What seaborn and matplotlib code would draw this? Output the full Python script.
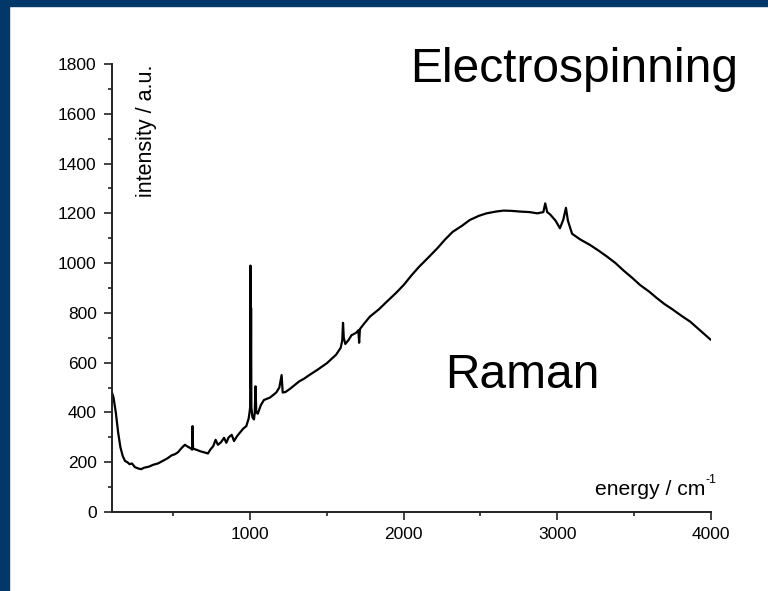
import pandas as pd
import seaborn as sns
import matplotlib.pyplot as plt
from matplotlib.patches import Rectangle
from matplotlib.ticker import MultipleLocator

# Raman spectrum, values
energy = [100, 110, 125, 140, 155, 170, 185, 200, 215, 230, 250, 270, 290, 310, 340,
          370, 400, 430, 460, 490, 510, 530, 555, 575, 595, 615, 622, 625, 628, 650,
          680, 710, 725, 740, 760, 775, 790, 810, 830, 845, 860, 880, 895, 915, 935,
          955, 975, 990, 995, 1000, 1002, 1004, 1006, 1008, 1015, 1025, 1030, 1035, 1040, 1050,
          1070, 1090, 1110, 1130, 1150, 1170, 1190, 1205, 1212, 1230, 1260, 1290, 1320, 1350, 1380,
          1410, 1440, 1470, 1500, 1530, 1560, 1590, 1600, 1605, 1610, 1620, 1640, 1660, 1690, 1705,
          1710, 1715, 1740, 1780, 1840, 1890, 1950, 2000, 2050, 2100, 2160, 2220, 2270, 2320, 2380,
          2430, 2490, 2540, 2600, 2650, 2700, 2760, 2820, 2870, 2910, 2922, 2935, 2955, 2990, 3018,
          3040, 3057, 3070, 3097, 3150, 3214, 3270, 3325, 3380, 3429, 3490, 3540, 3600, 3650, 3700,
          3756, 3810, 3866, 3930, 4000]
intensity = [480, 460, 400, 320, 260, 225, 205, 200, 192, 195, 180, 175, 172, 178, 182,
             190, 195, 205, 215, 228, 232, 240, 258, 270, 262, 255, 250, 345, 255, 250,
             243, 238, 235, 250, 265, 290, 270, 280, 298, 278, 300, 310, 285, 305, 320,
             335, 345, 375, 395, 420, 990, 500, 820, 420, 380, 372, 400, 505, 400, 395,
             430, 450, 455, 460, 470, 480, 500, 550, 480, 482, 495, 510, 525, 535, 548,
             560, 572, 585, 598, 615, 632, 660, 690, 760, 700, 675, 690, 710, 720, 730,
             680, 735, 755, 785, 815, 845, 880, 912, 950, 985, 1022, 1060, 1095, 1126, 1150,
             1173, 1190, 1200, 1207, 1211, 1210, 1207, 1205, 1200, 1205, 1240, 1205, 1195, 1170, 1140,
             1175, 1222, 1170, 1118, 1095, 1073, 1050, 1026, 1000, 972, 940, 912, 885, 859, 835,
             812, 788, 765, 730, 692]

df = pd.DataFrame({'energy': energy, 'intensity': intensity})

sns.set_style('ticks')
plt.rcParams['font.family'] = ['Liberation Sans', 'DejaVu Sans']
plt.rcParams['text.color'] = 'black'
plt.rcParams['xtick.labelcolor'] = 'black'
plt.rcParams['ytick.labelcolor'] = 'black'

fig = plt.figure(figsize=(7.68, 5.91), dpi=100)
ax = fig.add_axes([0.1458, 0.1337, 0.7796, 0.758])

sns.lineplot(x='energy', y='intensity', data=df, color='black', linewidth=1.6, ax=ax)

ax.set_xlim(100, 4000)
ax.set_ylim(0, 1800)
ax.xaxis.set_major_locator(MultipleLocator(1000))
ax.xaxis.set_minor_locator(MultipleLocator(500))
ax.yaxis.set_major_locator(MultipleLocator(200))
ax.yaxis.set_minor_locator(MultipleLocator(100))
ax.set_xticks([1000, 2000, 3000, 4000])
ax.tick_params(which='major', length=6, width=1.2, labelsize=12.5, color='#222222', pad=5)
ax.tick_params(which='minor', length=3, width=1.2, color='#222222')

sns.despine(ax=ax)
for side in ['left', 'bottom']:
    ax.spines[side].set_linewidth(1.4)
    ax.spines[side].set_color('#222222')

ax.set_xlabel('')
ax.set_ylabel('')

# labels placed inside the axes, as in the original
ax.text(0.04, 1.0, 'intensity / a.u.', transform=ax.transAxes, rotation=90,
        ha='left', va='top', fontsize=15.5)
fig.text(0.918, 0.162, 'energy / cm', ha='right', va='baseline', fontsize=15.2)
fig.text(0.919, 0.183, '-1', ha='left', va='baseline', fontsize=9)

fig.text(0.961, 0.862, 'Electrospinning', ha='right', va='baseline', fontsize=34.5)
fig.text(0.579, 0.343, 'Raman', ha='left', va='baseline', fontsize=34.5)

# dark blue slide frame on top and left
fig.add_artist(Rectangle((0, 0.99), 1, 0.01, transform=fig.transFigure,
                         color='#023869', zorder=10))
fig.add_artist(Rectangle((0, 0), 0.0117, 1, transform=fig.transFigure,
                         color='#023869', zorder=10))

fig.savefig('out.png', dpi=100)
